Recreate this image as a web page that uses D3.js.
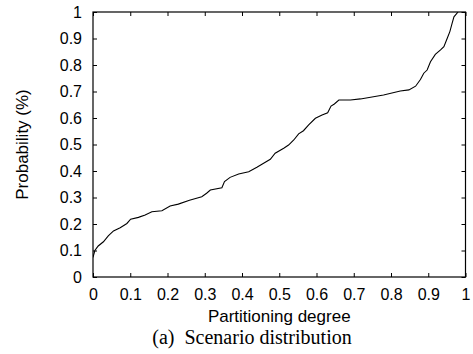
<!DOCTYPE html>
<html>
<head>
<meta charset="utf-8">
<script src="https://cdn.jsdelivr.net/npm/d3@7"></script>
<style>
  html, body { margin: 0; padding: 0; background: #fff; }
  svg { display: block; }
</style>
</head>
<body>
<div id="chart"></div>
<script>
// Partitioning degree (x) against cumulative probability (y)
const degree = [0, 0.005, 0.014, 0.028, 0.041, 0.055, 0.073, 0.091, 0.101, 0.122,
  0.14, 0.158, 0.185, 0.207, 0.229, 0.259, 0.292, 0.305, 0.315, 0.346,
  0.353, 0.368, 0.391, 0.418, 0.44, 0.458, 0.476, 0.489, 0.512, 0.525,
  0.539, 0.552, 0.565, 0.579, 0.597, 0.615, 0.63, 0.639, 0.648, 0.66,
  0.691, 0.718, 0.78, 0.825, 0.848, 0.866, 0.879, 0.888, 0.897, 0.906,
  0.919, 0.933, 0.942, 0.951, 0.958, 0.964, 0.969, 0.98]
const probability = [0.074, 0.10, 0.117, 0.133, 0.155, 0.174, 0.186, 0.202, 0.218, 0.225,
  0.234, 0.246, 0.25, 0.268, 0.275, 0.29, 0.303, 0.316, 0.328, 0.337,
  0.36, 0.376, 0.389, 0.397, 0.414, 0.429, 0.444, 0.467, 0.486, 0.498,
  0.517, 0.54, 0.552, 0.574, 0.599, 0.611, 0.62, 0.645, 0.653, 0.668,
  0.668, 0.672, 0.687, 0.702, 0.706, 0.72, 0.745, 0.769, 0.781, 0.812,
  0.84, 0.857, 0.869, 0.901, 0.926, 0.957, 0.982, 1.0]
const xTicks = [0, 0.1, 0.2, 0.3, 0.4, 0.5, 0.6, 0.7, 0.8, 0.9, 1]
const yTicks = [0, 0.1, 0.2, 0.3, 0.4, 0.5, 0.6, 0.7, 0.8, 0.9, 1]

const width = 473, height = 354
const margin = { top: 12, right: 7.5, bottom: 77, left: 93 }
const innerW = width - margin.left - margin.right
const innerH = height - margin.top - margin.bottom
const sans = "'Liberation Sans', Arial, sans-serif"
const serif = "'Liberation Serif', 'Times New Roman', serif"

const x = d3.scaleLinear().domain([0, 1]).range([0, innerW])
const y = d3.scaleLinear().domain([0, 1]).range([innerH, 0])
const fmt = d => d === 0 ? "0" : d === 1 ? "1" : d3.format(".1f")(d)

const svg = d3.select("#chart").append("svg")
  .attr("width", width).attr("height", height)

const g = svg.append("g").attr("transform", `translate(${margin.left},${margin.top})`)

const styleAxis = sel => {
  sel.select(".domain").remove()
  sel.selectAll(".tick line").attr("stroke", "#000").attr("stroke-width", 1)
  sel.selectAll(".tick text").attr("font-family", sans).attr("font-size", 16).attr("fill", "#000")
}

g.append("g").attr("transform", `translate(0,${innerH})`)
  .call(d3.axisBottom(x).tickValues(xTicks).tickFormat(fmt).tickSize(-4).tickPadding(11.5))
  .call(styleAxis)
g.append("g")
  .call(d3.axisTop(x).tickValues(xTicks).tickFormat("").tickSize(-4))
  .call(styleAxis)
g.append("g")
  .call(d3.axisLeft(y).tickValues(yTicks).tickFormat(fmt).tickSize(-4).tickPadding(11))
  .call(styleAxis)
g.append("g").attr("transform", `translate(${innerW},0)`)
  .call(d3.axisRight(y).tickValues(yTicks).tickFormat("").tickSize(-4))
  .call(styleAxis)

// frame
g.append("rect")
  .attr("width", innerW).attr("height", innerH)
  .attr("fill", "none").attr("stroke", "#000").attr("stroke-width", 1.2)

g.append("clipPath").attr("id", "plot-clip")
  .append("rect").attr("width", innerW).attr("height", innerH)

const line = d3.line()
  .x((d, i) => x(degree[i]))
  .y(d => y(d))

g.append("path")
  .datum(probability)
  .attr("clip-path", "url(#plot-clip)")
  .attr("fill", "none")
  .attr("stroke", "#000")
  .attr("stroke-width", 1.1)
  .attr("d", line)

// axis titles
svg.append("text")
  .attr("x", margin.left + innerW / 2).attr("y", 322)
  .attr("text-anchor", "middle")
  .attr("font-family", sans).attr("font-size", 17)
  .text("Partitioning degree")

svg.append("text")
  .attr("transform", `translate(28,${margin.top + innerH / 2}) rotate(-90)`)
  .attr("text-anchor", "middle")
  .attr("font-family", sans).attr("font-size", 17)
  .text("Probability (%)")

// caption
svg.append("text")
  .attr("x", 252).attr("y", 344)
  .attr("text-anchor", "middle")
  .attr("font-family", serif).attr("font-size", 20)
  .attr("xml:space", "preserve")
  .text("(a)  Scenario distribution")
</script>
</body>
</html>
